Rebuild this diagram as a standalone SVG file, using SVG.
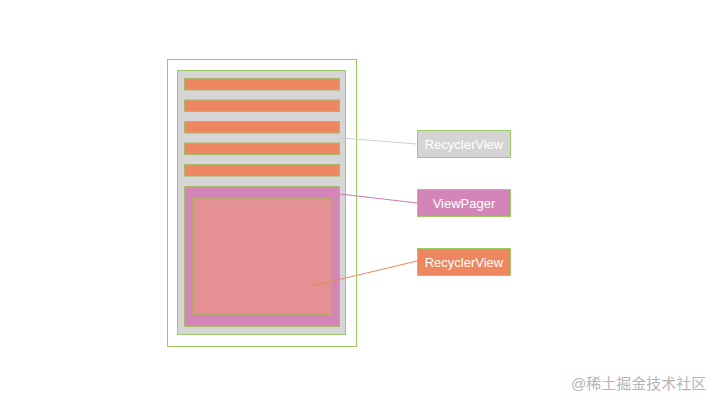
<svg xmlns="http://www.w3.org/2000/svg" width="720" height="405" viewBox="0 0 720 405">
<style>
.g{stroke:#9bcb66;stroke-width:1}
.bar{fill:#ee8660;stroke:#a9b86a;stroke-width:1}
.lbl{font-family:"Liberation Sans","Noto Sans",sans-serif;font-size:13px;fill:#ffffff;text-anchor:middle}
.wm{font-family:"Liberation Sans","Noto Sans CJK SC",sans-serif;font-size:15px;fill:#b5b5b5}
</style>
<rect width="720" height="405" fill="#ffffff"/>
<g id="phone">
<rect x="167.5" y="59.5" width="189" height="287" fill="#ffffff" class="g"/>
<rect x="177.5" y="70.5" width="168" height="264" fill="#d6d6d6" class="g"/>
</g>
<g id="list">
<rect x="184.5" y="78.5" width="155" height="11.5" class="bar"/>
<rect x="184.5" y="100" width="155" height="11.5" class="bar"/>
<rect x="184.5" y="121.5" width="155" height="11.5" class="bar"/>
<rect x="184.5" y="143" width="155" height="11.5" class="bar"/>
<rect x="184.5" y="164.5" width="155" height="11.5" class="bar"/>
</g>
<g id="pager">
<rect x="184.5" y="186.5" width="155" height="140" fill="#d485b8" stroke="#a9b86a" stroke-width="1"/>
</g>
<g id="inner">
<rect x="192.5" y="198.5" width="139" height="116" fill="#e59093" stroke="#b5a86a" stroke-width="1.5"/>
</g>
<g id="connectors" fill="none" stroke-width="1">
<line x1="341" y1="138" x2="417" y2="144" stroke="#cfcfcf"/>
<line x1="340" y1="194" x2="417" y2="203" stroke="#d07aae"/>
<line x1="312" y1="286" x2="417" y2="261" stroke="#ee8660"/>
</g>
<g id="label1">
<rect x="417.5" y="130.5" width="93" height="27" fill="#d4d4d4" class="g"/>
<text x="464" y="148.5" class="lbl">RecyclerView</text>
</g>
<g id="label2">
<rect x="417.5" y="189.5" width="93" height="27" fill="#d485b8" class="g"/>
<text x="464" y="207.5" class="lbl">ViewPager</text>
</g>
<g id="label3">
<rect x="417.5" y="248.5" width="93" height="27" fill="#ee8660" class="g"/>
<text x="464" y="266.5" class="lbl">RecyclerView</text>
</g>
<text x="571" y="389" class="wm">@稀土掘金技术社区</text>
</svg>
